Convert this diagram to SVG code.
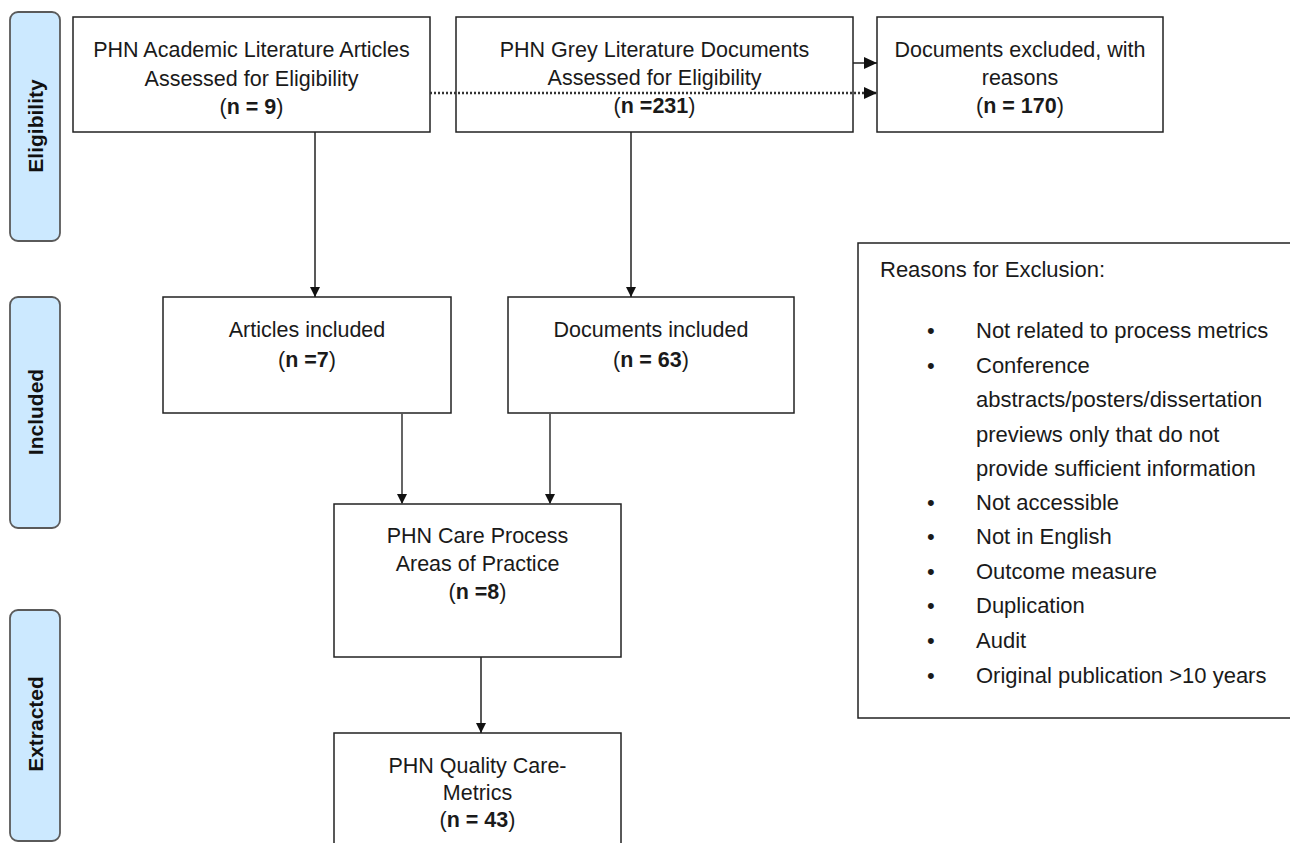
<svg xmlns="http://www.w3.org/2000/svg" width="1290" height="843" viewBox="0 0 1290 843">
<defs>
<style>
.box{fill:#fff;stroke:#222;stroke-width:1.5}
.pill{fill:#cce9ff;stroke:#5a5a5a;stroke-width:1.8}
.t{font-family:"Liberation Sans",Arial,sans-serif;font-size:21.5px;fill:#1a1a1a;text-anchor:middle}
.r{font-family:"Liberation Sans",Arial,sans-serif;font-size:22px;fill:#1a1a1a}
.lab{font-family:"Liberation Sans",Arial,sans-serif;font-size:21px;font-weight:bold;fill:#111;text-anchor:middle;dominant-baseline:central}
.b{font-weight:bold}
.ln{stroke:#222;stroke-width:1.5;fill:none}
.lg{stroke:#555;stroke-width:1.8;fill:none}
.dot{stroke:#333;stroke-width:2.5;stroke-dasharray:2 2;fill:none}
</style>
<marker id="ah" markerWidth="10" markerHeight="10" viewBox="0 0 10 10" refX="10" refY="5" orient="auto" markerUnits="userSpaceOnUse">
<path d="M0,0 L10,5 L0,10 Z" fill="#111"/>
</marker>
<marker id="ahs" markerWidth="13" markerHeight="12" viewBox="0 0 13 12" refX="13" refY="6" orient="auto" markerUnits="userSpaceOnUse">
<path d="M0,0 L13,6 L0,12 Z" fill="#111"/>
</marker>
</defs>
<rect width="1290" height="843" fill="#fff"/>

<g id="stage-eligibility">
<rect class="pill" x="10" y="12" width="50" height="229" rx="8"/>
<text class="lab" transform="translate(35,126) rotate(-90)">Eligibility</text>
</g>
<g id="stage-included">
<rect class="pill" x="10" y="297" width="50" height="231" rx="8"/>
<text class="lab" transform="translate(35,412) rotate(-90)">Included</text>
</g>
<g id="stage-extracted">
<rect class="pill" x="10" y="610" width="50" height="231" rx="8"/>
<text class="lab" transform="translate(35,724) rotate(-90)">Extracted</text>
</g>

<g id="academic">
<rect class="box" x="73" y="17" width="357" height="115"/>
<text class="t" x="251.5" y="57">PHN Academic Literature Articles</text>
<text class="t" x="251.5" y="86">Assessed for Eligibility</text>
<text class="t" x="251.5" y="114">(<tspan class="b">n = 9</tspan>)</text>
</g>
<g id="grey">
<rect class="box" x="456" y="17" width="397" height="115"/>
<text class="t" x="654.5" y="57">PHN Grey Literature Documents</text>
<text class="t" x="654.5" y="85">Assessed for Eligibility</text>
<text class="t" x="654.5" y="113">(<tspan class="b">n =231</tspan>)</text>
</g>
<g id="excluded">
<rect class="box" x="877" y="17" width="286" height="115"/>
<text class="t" x="1020" y="57">Documents excluded, with</text>
<text class="t" x="1020" y="85">reasons</text>
<text class="t" x="1020" y="113">(<tspan class="b">n = 170</tspan>)</text>
</g>
<g id="articles-included">
<rect class="box" x="163" y="297" width="288" height="116"/>
<text class="t" x="307" y="337">Articles included</text>
<text class="t" x="307" y="367">(<tspan class="b">n =7</tspan>)</text>
</g>
<g id="documents-included">
<rect class="box" x="508" y="297" width="286" height="116"/>
<text class="t" x="651" y="337">Documents included</text>
<text class="t" x="651" y="367">(<tspan class="b">n = 63</tspan>)</text>
</g>
<g id="care-process">
<rect class="box" x="334" y="504" width="287" height="153"/>
<text class="t" x="477.5" y="543">PHN Care Process</text>
<text class="t" x="477.5" y="571">Areas of Practice</text>
<text class="t" x="477.5" y="599">(<tspan class="b">n =8</tspan>)</text>
</g>
<g id="quality-metrics">
<rect class="box" x="334" y="733" width="287" height="120"/>
<text class="t" x="477.5" y="773">PHN Quality Care-</text>
<text class="t" x="477.5" y="800">Metrics</text>
<text class="t" x="477.5" y="827">(<tspan class="b">n = 43</tspan>)</text>
</g>
<g id="reasons">
<rect class="box" x="858" y="243" width="440" height="475"/>
<text class="r" x="880" y="277">Reasons for Exclusion:</text>
<text class="r" x="927" y="338">•</text><text class="r" x="976" y="338">Not related to process metrics</text>
<text class="r" x="927" y="373">•</text><text class="r" x="976" y="373">Conference</text>
<text class="r" x="976" y="407">abstracts/posters/dissertation</text>
<text class="r" x="976" y="442">previews only that do not</text>
<text class="r" x="976" y="476">provide sufficient information</text>
<text class="r" x="927" y="510">•</text><text class="r" x="976" y="510">Not accessible</text>
<text class="r" x="927" y="544">•</text><text class="r" x="976" y="544">Not in English</text>
<text class="r" x="927" y="579">•</text><text class="r" x="976" y="579">Outcome measure</text>
<text class="r" x="927" y="613">•</text><text class="r" x="976" y="613">Duplication</text>
<text class="r" x="927" y="648">•</text><text class="r" x="976" y="648">Audit</text>
<text class="r" x="927" y="683">•</text><text class="r" x="976" y="683">Original publication &gt;10 years</text>
</g>

<g id="connectors">
<line class="ln" x1="315" y1="132" x2="315" y2="297" marker-end="url(#ah)"/>
<line class="ln" x1="631" y1="132" x2="631" y2="297" marker-end="url(#ah)"/>
<line class="ln" x1="853" y1="63" x2="877" y2="63" marker-end="url(#ahs)"/>
<line class="dot" x1="430" y1="93" x2="877" y2="93" marker-end="url(#ahs)"/>
<line class="lg" x1="402" y1="413" x2="402" y2="504" marker-end="url(#ah)"/>
<line class="lg" x1="550" y1="413" x2="550" y2="504" marker-end="url(#ah)"/>
<line class="ln" x1="481" y1="657" x2="481" y2="733" marker-end="url(#ah)"/>
</g>
</svg>
